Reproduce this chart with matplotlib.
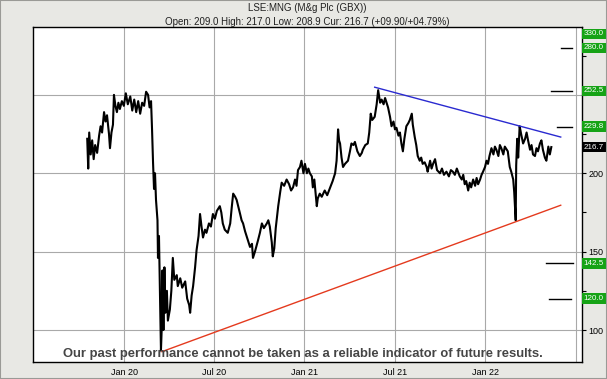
import numpy as np
import matplotlib.pyplot as plt
import matplotlib.dates as mdates
from matplotlib.transforms import blended_transform_factory

plt.rcParams['font.family'] = ['Liberation Sans', 'DejaVu Sans']

# ---- data (day offsets from 2020-01-01, price in GBX) ----
base = np.datetime64('2020-01-01')

day = [-75, -73, -71, -68, -65, -62, -59, -55, -51, -48, -45, -41, -38, -35, -31, -29,
       -26, -23, -21, -18, -15, -12, -9, -5, -1, 3, 7, 12, 16, 20, 24, 28, 32, 36, 40,
       44, 48, 51, 54, 56, 58, 60, 62, 64, 67, 68, 70, 74, 76, 77, 79, 81, 83, 86, 88,
       92, 95, 98, 101, 106, 108, 113, 117, 123, 127, 131, 133, 136, 139, 143, 146,
       150, 153, 156, 159, 163, 166, 171, 175, 179, 183, 187, 193, 196, 199, 203, 209,
       214, 217, 220, 224, 227, 231, 234, 237, 240, 244, 250, 254, 258, 260, 264, 270,
       274, 278, 282, 288, 291, 294, 298, 300, 303, 306, 311, 315, 318, 323, 328, 333,
       337, 341, 345, 348, 351, 355, 358, 362, 365, 369, 372, 375, 379, 381, 384, 389,
       391, 395, 399, 405, 410, 416, 421, 426, 429, 432, 434, 436, 439, 442, 446, 452,
       456, 459, 463, 466, 471, 476, 480, 482, 487, 492, 495, 498, 501, 506, 510, 513,
       517, 520, 524, 527, 530, 533, 537, 540, 544, 547, 550, 554, 557, 560, 563, 566,
       570, 574, 577, 581, 583, 587, 590, 593, 597, 600, 603, 607, 611, 613, 618, 621,
       624, 628, 632, 638, 642, 646, 651, 656, 660, 664, 668, 672, 678, 682, 685, 688,
       691, 695, 698, 701, 705, 709, 712, 715, 719, 722, 725, 729, 732, 735, 738, 742,
       746, 749, 752, 756, 759, 762, 766, 769, 773, 775, 779, 782, 786, 788, 791, 792,
       794, 796, 799, 802, 806, 810, 813, 816, 820, 823, 826, 830, 833, 836, 840, 843,
       846, 850, 853, 857, 860, 863]

price = [222, 203, 226, 212, 221, 209, 218, 213, 224, 230, 226, 239, 233, 237, 225, 216,
         226, 231, 250, 243, 239, 245, 241, 246, 243, 251, 244, 249, 240, 247, 239, 246,
         238, 245, 243, 252, 250, 242, 246, 228, 207, 190, 200, 183, 170, 146, 160, 87,
         105, 138, 100, 140, 111, 125, 106, 113, 125, 146, 132, 135, 128, 133, 127, 131,
         120, 116, 111, 122, 128, 140, 151, 160, 174, 166, 159, 164, 162, 168, 166, 174,
         171, 176, 179, 175, 168, 164, 162, 168, 178, 187, 185, 183, 178, 174, 170, 168,
         163, 157, 153, 155, 146, 150, 157, 162, 168, 165, 168, 170, 166, 156, 147, 152,
         165, 179, 188, 194, 192, 196, 193, 189, 191, 196, 192, 202, 204, 208, 200, 206,
         200, 203, 200, 198, 191, 196, 179, 184, 187, 185, 189, 186, 191, 195, 200, 208,
         228, 221, 219, 210, 204, 206, 208, 214, 219, 218, 220, 214, 211, 213, 215, 218,
         219, 226, 238, 234, 236, 244, 253, 245, 247, 244, 248, 245, 242, 236, 230, 233,
         228, 229, 224, 226, 219, 214, 222, 230, 232, 234, 238, 231, 223, 218, 211, 208,
         210, 206, 207, 204, 201, 208, 203, 206, 209, 202, 200, 203, 199, 201, 198, 202,
         201, 199, 203, 198, 196, 199, 193, 195, 189, 194, 191, 196, 192, 197, 193, 196,
         199, 201, 204, 208, 206, 211, 216, 212, 217, 215, 211, 218, 216, 212, 217, 215,
         214, 204, 201, 196, 188, 170, 205, 222, 210, 230, 225, 219, 222, 226, 221, 215,
         218, 212, 211, 216, 214, 219, 221, 215, 210, 208, 217, 212, 216.7]

# trend lines (start day, start price, end day, end price)
blue_line = [506, 254.9, 882, 223.1]
red_line = [76, 86.2, 882, 179.6]

# target levels: price, first day, last day
targets = [280.0, 252.5, 229.8, 142.5, 120.0]
target_start = [882, 862, 874, 853, 858]
target_end = [905, 905, 904, 907, 902]

# right-hand value boxes
box_labels = ['330.0', '280.0', '252.5', '229.8', '216.7', '142.5', '120.0']
box_values = [330.0, 280.0, 252.5, 229.8, 216.7, 142.5, 120.0]
box_colors = ['#16a316', '#16a316', '#16a316', '#16a316', '#000000', '#16a316', '#16a316']

xtick_days = [182, 364, 547, 729, 912]
xtick_labels = ['Jul 20', 'Jan 21', 'Jul 21', 'Jan 22', '']

def to_num(d):
    return mdates.date2num(base + np.array(d, dtype='timedelta64[D]'))

# ---- figure ----
W, H = 607, 379
fig = plt.figure(figsize=(W / 100, H / 100), dpi=100, facecolor='#e8e8e4')
fig.patches.append(plt.Rectangle((0, 0), 1, 1, transform=fig.transFigure,
                                 fill=False, ec='#9a9a96', lw=1.5))
ax = fig.add_axes([33.3 / W, 1 - 362.3 / H, (581.5 - 33.3) / W, (362.3 - 26.7) / H])
ax.set_facecolor('white')

# grid
for d in [0] + xtick_days:
    ax.axvline(to_num([d])[0], color='#a9a9a9', lw=0.8, zorder=1)
for v in [100, 150, 200, 250]:
    ax.axhline(v, color='#a9a9a9', lw=0.8, zorder=1)

ax.plot(to_num(day), price, color='black', lw=1.5, zorder=3)
ax.plot(to_num([blue_line[0], blue_line[2]]), [blue_line[1], blue_line[3]],
        color='#2a2ad0', lw=1.0, zorder=4)
ax.plot(to_num([red_line[0], red_line[2]]), [red_line[1], red_line[3]],
        color='#e43a1e', lw=1.0, zorder=4)
for v, s, e in zip(targets, target_start, target_end):
    ax.plot(to_num([s, e]), [v, v], color='black', lw=1.0, zorder=4)

ax.set_xlim(to_num([-184])[0], to_num([924])[0])
ax.set_ylim(79.4, 293.5)

ax.set_xticks(to_num([0] + xtick_days))
ax.set_xticklabels(['Jan 20'] + xtick_labels, fontsize=6.5)
ax.tick_params(axis='x', length=0, pad=4)

ax.yaxis.tick_right()
yt = np.arange(100, 276, 25)
ax.set_yticks(yt)
ax.set_yticklabels([str(v) if v in (100, 150, 200) else '' for v in yt], fontsize=6.5)
ax.tick_params(axis='y', direction='out', length=3, width=0.8, pad=2)

for sp in ax.spines.values():
    sp.set_color('black')
    sp.set_linewidth(1.0)

# value boxes on the right edge
tr = blended_transform_factory(fig.transFigure, ax.transData)
box_w = (W - 582) / W
for lab, v, c in zip(box_labels, box_values, box_colors):
    yv = min(v, 288.9)
    ax.add_patch(plt.Rectangle((582 / W, yv - 3.4), box_w, 6.8, transform=tr,
                               fc=c, ec='none', clip_on=False, zorder=6))
    ax.text(583.5 / W, yv, lab, transform=tr, fontsize=5.8, color='white',
            va='center', ha='left', clip_on=False, zorder=7)

fig.text(307 / W, 1 - 8 / H, 'LSE:MNG (M&g Plc (GBX))', ha='center', va='center',
         fontsize=7, color='#202020')
fig.text(307 / W, 1 - 22 / H,
         'Open: 209.0 High: 217.0 Low: 208.9 Cur: 216.7 (+09.90/+04.79%)',
         ha='center', va='center', fontsize=7, color='#202020')
fig.text(303 / W, 1 - 354 / H,
         'Our past performance cannot be taken as a reliable indicator of future results.',
         ha='center', va='center', fontsize=9.4, fontweight='bold', color='#454545',
         zorder=7)

fig.savefig('out.png', dpi=100, facecolor=fig.get_facecolor())
